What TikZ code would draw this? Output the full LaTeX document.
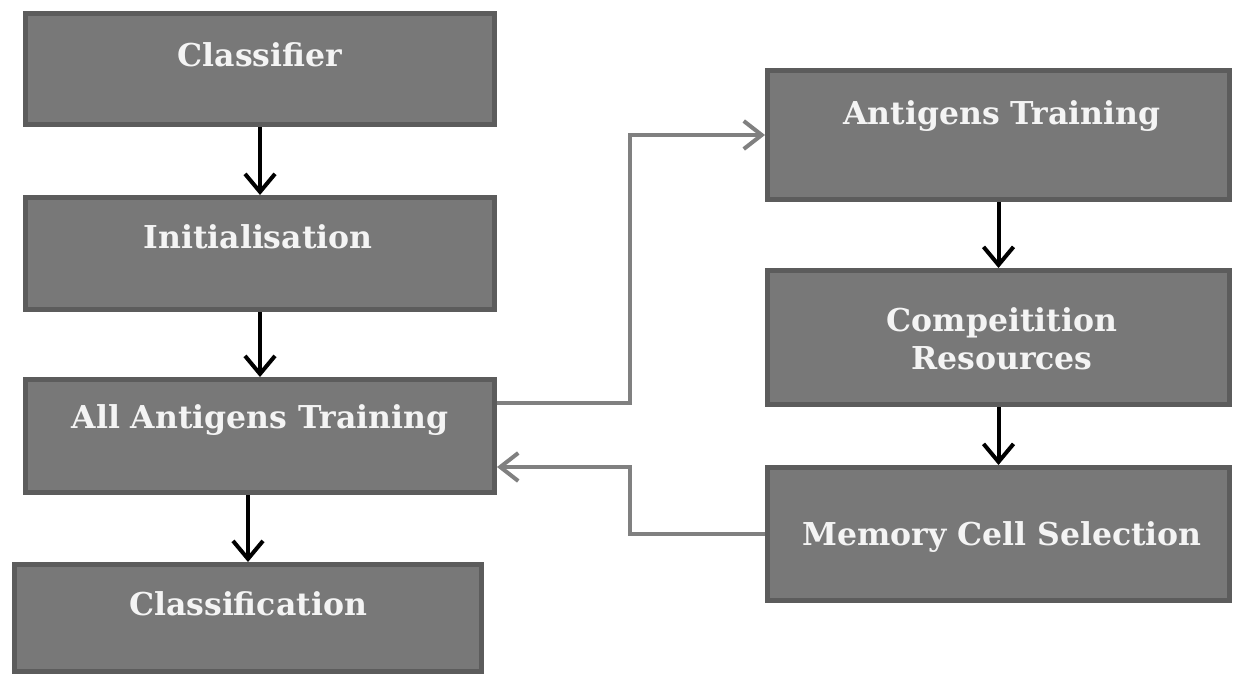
\documentclass[tikz,border=0pt]{standalone}
\usepackage{fontspec}
\setmainfont{DejaVu Serif}
\usetikzlibrary{arrows.meta,calc}
\definecolor{boxfill}{HTML}{787878}
\definecolor{boxline}{HTML}{5C5C5C}
\definecolor{linkgray}{HTML}{808080}
\definecolor{txtwhite}{HTML}{F4F4F4}
\tikzset{
  stepbox/.style={draw=boxline, fill=boxfill, line width=5pt, rectangle, inner sep=0pt},
  lbl/.style={text=txtwhite, font=\fontsize{31.5}{38}\selectfont\bfseries, inner sep=0pt, align=center},
  barrow/.style={draw=black, line width=4pt, -{Straight Barb[length=18pt,width=30pt,line width=4pt]}},
  garrow/.style={draw=linkgray, line width=4pt, -{Straight Barb[length=18pt,width=28pt,line width=4pt]}}
}
\begin{document}
\begin{tikzpicture}[x=1pt,y=-1pt]
\useasboundingbox[fill=white] (0,0) rectangle (1233,677);
% left column
\node[stepbox, minimum width=469pt, minimum height=111pt] (cls) at (260,69) {};
\node[stepbox, minimum width=469pt, minimum height=112pt] (init) at (260,253.5) {};
\node[stepbox, minimum width=469pt, minimum height=113pt] (all) at (260,436) {};
\node[stepbox, minimum width=467pt, minimum height=107pt] (clsn) at (248,618) {};
% right column
\node[stepbox, minimum width=462pt, minimum height=129pt] (at) at (998.5,135) {};
\node[stepbox, minimum width=462pt, minimum height=134pt] (comp) at (998.5,337.5) {};
\node[stepbox, minimum width=462pt, minimum height=133pt] (mem) at (998.5,534) {};
% texts
\node[lbl] (clsT) at (260,55) {Classifier};
\node[lbl] (initT) at (258,237) {Initialisation};
\node[lbl] (allT) at (260,420) {All Antigens Training};
\node[lbl] (clsnT) at (248,604) {Classification};
\node[lbl] (atT) at (1002,116) {Antigens Training};
\node[lbl] (compT) at (1002,339) {Compeitition\\Resources};
\node[lbl] (memT) at (1002,537) {Memory Cell Selection};
% black arrows
\draw[barrow] (cls.south) -- (init.north);
\draw[barrow] (init.south) -- (all.north);
\draw[barrow] (clsn.north |- all.south) -- (clsn.north);
\draw[barrow] (at.south) -- (comp.north);
\draw[barrow] (comp.south) -- (mem.north);
% gray loop connectors
\coordinate (bend) at (630,0);
\coordinate (allOut) at ([yshift=33pt]all.east);
\coordinate (allIn) at ([yshift=-31pt]all.east);
\draw[garrow] (allOut) -| (bend |- at.west) -- (at.west);
\draw[garrow] (mem.west) -| (bend |- allIn) -- (allIn);
\end{tikzpicture}
\end{document}
